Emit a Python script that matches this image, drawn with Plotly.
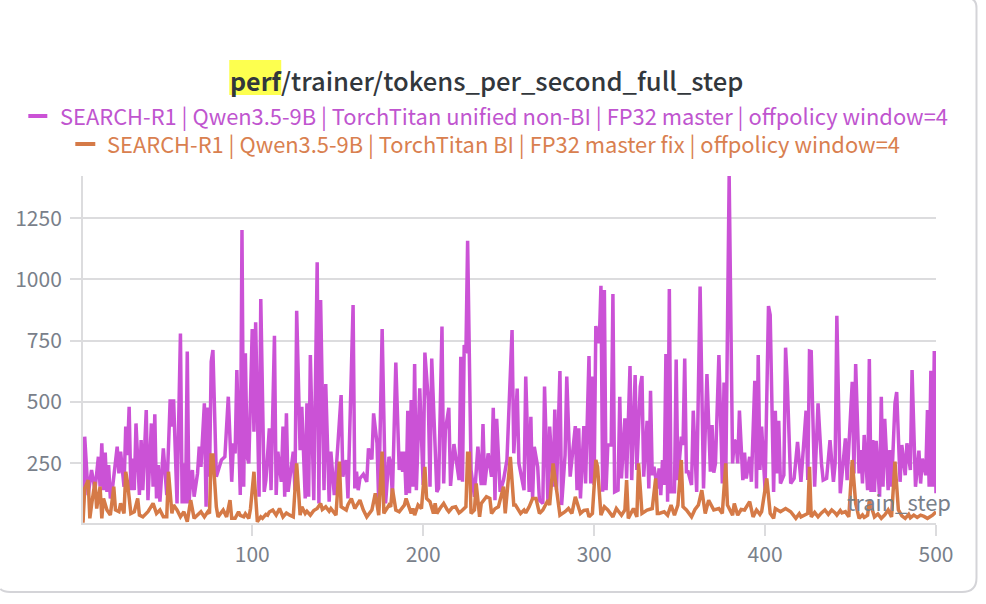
import plotly.graph_objects as go

# values, peaks and troughs
purple_steps = [1,2,4,6,8,10,11,12,13,14,15,16,17,18,21,22,23,25,26,27,28,29,30,31,32,34,35,36,38,39,41,42,43,44,45,46,48,50,52,53,54,55,56,58,59,60,61,62,63,64,65,66,68,69,70,72,73,74,75,76,77,79,82,84,86,88,89,90,91,93,94,95,96,97,98,100,101,102,104,105,107,108,110,111,113,114,115,117,118,119,120,121,124,125,126,128,129,131,132,133,134,136,138,139,140,142,143,145,146,148,149,152,153,155,156,159,160,161,162,163,165,167,168,
    170,171,173,174,176,178,180,181,182,184,186,187,188,189,190,191,192,193,194,195,196,197,198,200,201,203,204,205,207,208,209,211,212,213,215,216,218,221,222,223,224,225,226,228,230,232,234,235,236,238,240,241,242,243,245,247,249,252,253,255,256,259,260,262,263,264,265,267,268,270,271,273,274,276,277,278,280,281,283,284,286,289,290,291,292,294,295,297,298,299,300,301,303,304,305,306,307,308,310,311,312,314,315,316,318,319,321,322,324,325,327,328,329,331,332,333,334,335,337,338,339,
    340,341,342,343,344,345,347,348,349,351,352,353,354,355,357,358,360,362,364,366,368,369,370,371,373,375,376,377,379,381,382,383,384,385,387,388,389,391,392,394,395,396,397,398,400,402,403,405,406,407,408,409,411,412,413,415,417,419,421,424,425,426,427,429,431,433,434,436,438,440,441,442,444,447,448,451,452,453,455,456,457,458,460,461,462,463,464,465,467,468,469,470,472,473,474,476,477,479,480,482,483,485,486,488,490,491,492,494,495,496,497,498,499,500]
purple_values = [19,359,121,223,141,277,155,332,141,294,134,243,107,134,318,209,298,155,400,284,481,141,270,141,413,121,345,141,468,100,413,155,450,107,243,94,311,121,511,400,511,250,87,780,87,250,87,706,87,182,223,114,209,318,236,495,73,478,196,665,712,196,264,277,522,175,332,291,631,121,1202,155,699,277,250,798,379,825,114,920,134,182,393,141,770,121,298,175,400,114,454,134,298,141,872,304,481,107,495,114,692,100,1070,87,916,141,574,94,298,121,209,529,196,264,107,896,148,216,141,189,206,175,311,
    266,454,332,87,798,87,277,250,114,661,223,298,216,298,121,465,128,508,155,655,141,318,556,162,702,508,155,678,291,134,148,808,168,386,477,158,329,182,685,175,733,699,1158,223,114,318,162,410,162,291,196,477,100,432,134,182,264,794,291,555,250,141,604,134,440,107,318,236,100,87,563,87,400,155,470,141,627,80,284,604,196,402,141,393,107,402,168,688,168,604,162,810,740,974,134,957,141,325,325,941,134,141,522,189,434,189,647,182,610,223,563,606,196,424,148,546,202,236,148,230,121,
    264,162,696,94,961,134,134,674,182,359,325,678,216,216,162,465,134,971,148,614,216,406,212,250,692,168,580,168,1422,250,345,338,250,465,182,294,189,277,175,587,148,692,223,400,141,892,855,134,465,209,424,168,202,722,576,168,189,338,175,465,182,708,706,155,495,250,182,189,345,175,250,852,128,352,182,583,209,655,209,304,168,366,141,676,134,345,134,342,114,522,155,432,141,304,155,495,541,175,325,202,332,223,631,155,302,168,270,202,468,155,628,155,708,128]

orange_steps = [1,2,4,5,6,8,9,11,12,13,15,17,19,20,22,23,25,26,27,29,31,33,34,36,39,42,44,46,48,50,51,53,54,56,58,60,62,64,66,68,70,72,74,75,76,77,79,80,83,85,87,88,90,92,93,95,96,98,99,101,102,103,105,106,108,109,110,112,114,116,118,120,122,124,126,128,129,131,132,134,136,138,140,141,143,145,146,148,149,151,152,155,156,158,160,163,165,167,
    170,172,174,176,177,180,181,182,184,186,189,190,192,193,194,195,197,199,201,202,204,206,207,208,210,212,214,215,217,219,221,222,225,226,227,228,230,231,233,234,237,239,240,242,244,247,248,251,253,254,257,259,260,262,264,266,268,270,273,274,276,278,280,283,285,287,289,292,294,296,297,299,301,302,304,306,308,311,313,315,316,318,319,320,323,325,326,328,331,334,336,337,
    338,341,343,345,347,349,351,352,354,357,359,361,363,365,367,370,373,375,377,378,381,382,384,386,388,391,393,395,397,398,401,403,405,406,409,412,415,418,420,421,423,425,426,427,429,431,433,435,437,439,441,442,444,445,447,449,451,453,455,457,458,460,461,464,466,468,470,472,474,476,478,480,482,484,485,487,489,491,493,495,498,500]
orange_values = [8,148,182,26,80,175,66,155,26,107,60,39,155,60,53,87,46,216,175,46,53,107,39,32,53,87,46,60,32,32,216,46,80,60,32,53,12,100,26,39,53,32,53,46,284,284,73,32,60,32,100,26,26,53,38,32,45,26,66,216,100,12,32,26,42,39,52,60,39,66,32,48,39,32,250,39,73,46,55,39,58,66,87,62,73,55,66,48,39,257,73,60,82,107,66,100,60,32,
    60,128,39,298,46,80,73,148,60,53,80,107,66,46,66,39,80,66,236,107,94,46,87,46,68,87,62,53,70,73,48,53,73,291,291,46,60,168,32,87,114,107,46,65,73,155,46,277,80,80,46,60,48,73,107,107,46,60,100,80,250,148,39,53,66,46,114,46,58,60,32,46,264,236,39,73,60,32,66,48,39,60,182,26,66,32,250,46,60,66,189,46,
    46,53,39,80,39,80,264,73,60,32,62,80,141,46,100,60,66,46,250,80,39,87,39,62,60,94,32,60,42,53,189,46,26,66,53,66,53,26,45,32,39,46,236,32,50,32,48,60,42,60,48,39,58,48,53,32,264,87,26,40,30,39,100,32,44,26,40,60,32,257,60,36,26,42,28,39,30,39,34,26,39,53]

title_hl = "perf"
title_rest = "/trainer/tokens_per_second_full_step"
purple_name = "SEARCH-R1 | Qwen3.5-9B | TorchTitan unified non-BI | FP32 master | offpolicy window=4"
orange_name = "SEARCH-R1 | Qwen3.5-9B | TorchTitan BI | FP32 master fix | offpolicy window=4"
y_ticks = [250, 500, 750, 1000, 1250]
x_ticks = [100, 200, 300, 400, 500]

W, H = 986, 604
LEFT, RIGHT, TOP, BOTTOM = 82.7, 936, 176, 523
FONT = "Noto Sans CJK SC"
PURPLE = "#cb52d6"
ORANGE = "#d57a47"
GREY = "#dcdcde"


def fx(px):
    return (px - LEFT) / (RIGHT - LEFT)


def fy(px):
    return (BOTTOM - px) / (BOTTOM - TOP)


fig = go.Figure()
fig.add_trace(go.Scatter(x=purple_steps, y=purple_values, mode="lines", name=purple_name,
                         line=dict(color=PURPLE, width=3.5), showlegend=False))
fig.add_trace(go.Scatter(x=orange_steps, y=orange_values, mode="lines", name=orange_name,
                         line=dict(color=ORANGE, width=3.5), showlegend=False))

shapes = [
    # yellow highlight behind the search match in the title
    dict(type="rect", xref="paper", yref="paper", x0=fx(229), x1=fx(281), y0=fy(95), y1=fy(60),
         fillcolor="#fdff4f", line_width=0, layer="below"),
    # legend dashes
    dict(type="line", xref="paper", yref="paper", x0=fx(28), x1=fx(47), y0=fy(116), y1=fy(116),
         line=dict(color=PURPLE, width=4)),
    dict(type="line", xref="paper", yref="paper", x0=fx(75), x1=fx(95), y0=fy(144), y1=fy(144),
         line=dict(color=ORANGE, width=4)),
    # card border
    dict(type="path", xref="paper", yref="paper", layer="below",
         path=f"M {fx(972)} {fy(-1)} Q {fx(976.5)} {fy(1)} {fx(976.5)} {fy(8)} L {fx(976.5)} {fy(578)} "
              f"Q {fx(976.5)} {fy(592)} {fx(962)} {fy(592)} L {fx(10)} {fy(592)} Q {fx(3)} {fy(592)} {fx(0)} {fy(589)}",
         line=dict(color="#d4d4d8", width=2)),
]

annotations = [
    dict(text=f"<b>{title_hl}</b>", x=fx(228), y=fy(80), xanchor="left", yanchor="middle",
         font=dict(size=25, color="#32373c")),
    dict(text=title_rest, x=fx(278.5), y=fy(79.5), xanchor="left", yanchor="middle",
         font=dict(size=25.6, color="#32373c", weight=500)),
    dict(text=purple_name, x=fx(57.5), y=fy(115.5), xanchor="left", yanchor="middle",
         font=dict(size=21.9, color="#c055cf")),
    dict(text=orange_name, x=fx(105), y=fy(143.5), xanchor="left", yanchor="middle",
         font=dict(size=21.9, color="#d9804f")),
    dict(text="train_step", x=fx(953), y=fy(501), xanchor="right", yanchor="middle",
         font=dict(size=22, color="#79808a")),
]
for a in annotations:
    a.update(xref="paper", yref="paper", showarrow=False)

fig.update_layout(
    width=W, height=H,
    margin=dict(l=LEFT, r=W - RIGHT, t=TOP, b=H - BOTTOM, autoexpand=False),
    paper_bgcolor="#ffffff", plot_bgcolor="#ffffff",
    font=dict(family=FONT, color="#79808a", size=21),
    shapes=shapes, annotations=annotations,
    showlegend=False,
)
fig.update_xaxes(range=[1, 500], tickvals=x_ticks, ticks="outside", ticklen=11, tickwidth=2, tickcolor=GREY,
                 showgrid=False, showline=True, linecolor=GREY, linewidth=2, zeroline=False, ticklabelstandoff=1)
fig.update_yaxes(range=[7, 1422], tickvals=y_ticks, ticks="outside", ticklen=11, tickwidth=2, tickcolor=GREY,
                 showgrid=True, gridcolor=GREY, gridwidth=2, showline=True, linecolor=GREY, linewidth=2,
                 zeroline=False, ticklabelstandoff=4)

fig.write_html("out.html", config=dict(displayModeBar=False), post_script="document.body.style.margin='0';")
